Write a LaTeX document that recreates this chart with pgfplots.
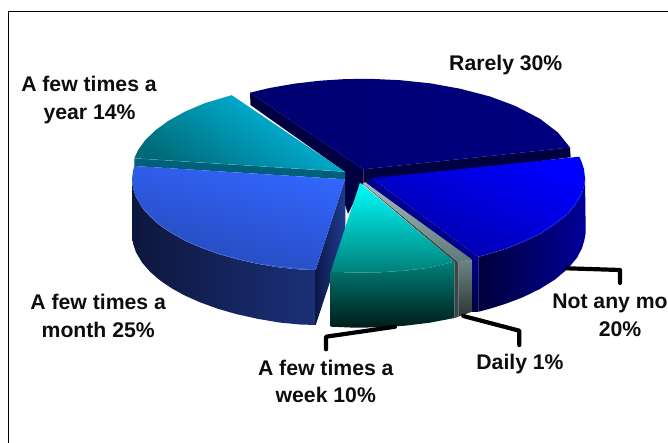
\documentclass[border=0pt]{standalone}
\usepackage{fontspec}
\setmainfont{Liberation Sans}
\usepackage{pgfplots}
\pgfplotsset{compat=1.18}
\definecolor{lbA}{HTML}{006A78}\definecolor{lbB}{HTML}{00C0EA}\definecolor{lbS}{HTML}{00607A}
\definecolor{bA}{HTML}{3366FF}\definecolor{bB}{HTML}{2549B8}
\definecolor{bwA}{HTML}{0D163C}\definecolor{bwB}{HTML}{1B3078}
\definecolor{biA}{HTML}{0D1848}\definecolor{biB}{HTML}{203C90}
\definecolor{nA}{HTML}{000080}\definecolor{nB}{HTML}{000070}\definecolor{nS}{HTML}{000040}
\definecolor{mA}{HTML}{0000FF}\definecolor{mB}{HTML}{0000A8}\definecolor{mwA}{HTML}{00003C}\definecolor{mwB}{HTML}{000098}\definecolor{mS}{HTML}{00008C}
\definecolor{cA}{HTML}{00FFFF}\definecolor{cB}{HTML}{007F78}\definecolor{cC}{HTML}{001C1C}
\definecolor{gA}{HTML}{A4BCBC}\definecolor{gB}{HTML}{5F7878}\definecolor{gC}{HTML}{6E8686}\definecolor{gD}{HTML}{2E3434}\definecolor{gS}{HTML}{3C4646}
\tikzset{lbl/.style={anchor=base,font=\fontsize{21.2}{25}\selectfont\bfseries,inner sep=0pt,text=black!95},
 lead/.style={black,line width=4.2pt,line cap=round,line join=round},
 edge/.style={line width=0.4pt,opacity=0.35}}
\begin{document}
\begin{tikzpicture}
\path[use as bounding box] (0,0) rectangle (668pt,443pt);
\clip (0,0) rectangle (668pt,443pt);
\begin{axis}[at={(0,0)},anchor=south west,scale only axis,width=668pt,height=443pt,hide axis,
 xmin=0,xmax=668,ymin=0,ymax=443,y dir=reverse,clip=false]
% frame
\addplot[black,line width=1.1pt] coordinates {(8.3,443)(8.3,11.5)(668,11.5)};
% Rarely 30%: walls then top
\addplot[draw=none,fill=nS] coordinates {(250,92.7)(363.3,169.3)(363.3,183)(348,214)(345,205)(345,172)(250.5,105)};
\addplot[draw=none,fill=nS] coordinates {(363.3,169.3)(570,147.5)(570.7,157.3)(363.3,183)};
\addplot[draw=none,left color=nB,right color=nA] coordinates {(250,92.7)(270,87.9)(295,83.6)(320,80.7)(345,79.1)(370,78.8)(400,80.2)(430,83.3)(460,88.7)(490,96.5)(515,105.8)(540,118.8)(558,132.6)(570,147.5)(363.3,169.3)};
\addplot[edge,color=blue!45!nA] coordinates {(250,92.7)(363.3,169.3)(570,147.5)};
% A few times a year 14%
\addplot[draw=none,fill=lbS] coordinates {(134.3,158.3)(345,171.7)(345,179.3)(134.3,166)};
\addplot[draw=none,top color=lbB,bottom color=lbA,shading angle=-34] coordinates {(134.3,158.3)(138,150.3)(145,140.4)(155,130.6)(168,121.1)(185,111.6)(205,103.1)(231.7,95.2)(345,171.7)};
\addplot[edge,color=lbB!50!white] coordinates {(134.3,158.3)(345,171.7)};
% A few times a month 25%
\addplot[draw=none,left color=bwA,right color=bwB] coordinates {(132,179.5)(133,188.5)(136,197.3)(142,207.5)(150,216.7)(160,225.4)(172,233.5)(185,240.6)(200,247.3)(218,253.8)(236,259)(258,263.9)(280,267.6)(300,269.5)(315.7,270)(315.7,325)(300,324.5)(280,322.6)(258,318.9)(236,314)(218,308.8)(200,302.3)(185,295.6)(172,288.5)(160,280.4)(150,271.7)(142,262.5)(136,252.3)(133,243.5)(132,234.5)};
\addplot[draw=none,left color=biA,right color=biB] coordinates {(315.7,270)(345,179.3)(345.5,235)(315.7,325)};
\addplot[draw=none,top color=bA,bottom color=bB,shading angle=-15] coordinates {(134.3,166)(132.8,172)(132,179.5)(133,188.5)(136,197.3)(142,207.5)(150,216.7)(160,225.4)(172,233.5)(185,240.6)(200,247.3)(218,253.8)(236,259)(258,263.9)(280,267.6)(300,269.5)(315.7,270)(345,179.3)};
\addplot[edge,color=bA!50!white] coordinates {(142,207.5)(160,225.4)(185,240.6)(218,253.8)(258,263.9)(315.7,270)};
% Not any more 20%
\addplot[draw=none,fill=mS] coordinates {(371.7,178.3)(478.3,256.8)(471,262)(366,183)};
\addplot[draw=none,top color=mS,bottom color=nS] coordinates {(471,260)(478.3,256.8)(478.3,311.8)(471,311.8)};
\addplot[draw=none,left color=mwA,right color=mwB] coordinates {(478.3,256.8)(490,253.7)(505,249)(523,242.2)(540,233.9)(555,224.5)(568,213.6)(577,202.7)(582,193.2)(584.3,185.4)(585,178)(585.7,233)(584.3,240.4)(582,248.2)(577,257.7)(568,268.6)(555,279.5)(540,288.9)(523,297.2)(505,304)(490,308.7)(478.3,311.8)};
\addplot[draw=none,top color=mA,bottom color=mB,shading angle=-25] coordinates {(371.7,178.3)(579.3,156.7)(581.5,161.6)(584,169.2)(585,178)(584.3,185.4)(582,193.2)(577,202.7)(568,213.6)(555,224.5)(540,233.9)(523,242.2)(505,249)(490,253.7)(478.3,256.8)};
\addplot[edge,color=mA!50!white] coordinates {(478.3,256.8)(505,249)(540,233.9)(568,213.6)(582,193.2)};
\addplot[edge,color=mA!50!white] coordinates {(478.3,256.8)(478.3,311.8)};
% Daily 1%
\addplot[draw=none,top color=gC,bottom color=gD] coordinates {(458.3,262.3)(471.7,259.3)(471.7,311.8)(458.3,316.7)};
\addplot[draw=none,fill=gS] coordinates {(361,182.5)(366,186)(458.3,262.3)(458.3,316.7)(454.3,318.3)(454.3,261.7)};
\addplot[draw=none,top color=gA,bottom color=gB] coordinates {(365,182.2)(471.7,259.3)(458.3,262.3)(363,183.5)};
% A few times a week 10%
\addplot[draw=none,top color=cB,bottom color=cC] coordinates {(330.7,271.7)(355,272.7)(380,272.3)(405,270.7)(430,267.7)(454.3,261.7)(454.3,318)(430,322.7)(405,325.7)(380,327.3)(355,327.7)(330.7,326.7)};
\addplot[draw=none,top color=cA,bottom color=cB] coordinates {(360,182.7)(454.3,261.7)(430,267.7)(405,270.7)(380,272.3)(355,272.7)(330.7,271.7)};
\addplot[edge,color=cB!70!white] coordinates {(340,272)(380,272.3)(430,267.7)};
% leaders
\addplot[lead] coordinates {(566.7,268.3)(620,270)(620,283)};
\addplot[lead] coordinates {(463.3,316)(519.3,330.7)(519.3,345)};
\addplot[lead] coordinates {(395,326.7)(326,336.7)(326,349.3)};
% labels
\node[lbl] at (axis cs:89,91.7) {A few times a};
\node[lbl] at (axis cs:89.5,120) {year 14\%};
\node[lbl] at (axis cs:505.8,70.7) {Rarely 30\%};
\node[lbl] at (axis cs:98.2,309.3) {A few times a};
\node[lbl] at (axis cs:98.2,337.3) {month 25\%};
\node[lbl] at (axis cs:325.8,375) {A few times a};
\node[lbl] at (axis cs:325.8,402.7) {week 10\%};
\node[lbl] at (axis cs:520,369.3) {Daily 1\%};
\node[lbl] at (axis cs:620,308.3) {Not any more};
\node[lbl] at (axis cs:620,336.7) {20\%};
\end{axis}
\end{tikzpicture}
\end{document}
